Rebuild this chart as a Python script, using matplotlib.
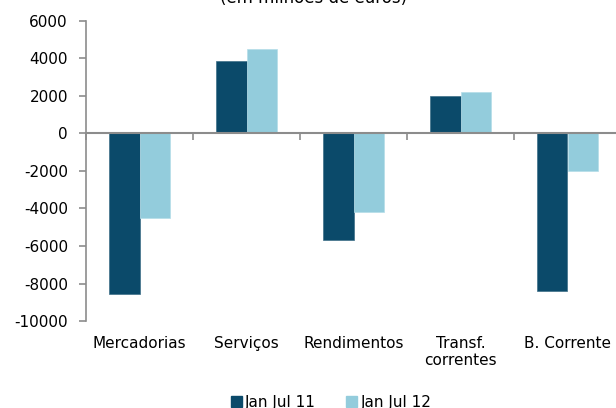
import numpy as np
import matplotlib
matplotlib.use('Agg')
import matplotlib.pyplot as plt
import matplotlib.transforms as mtransforms
from matplotlib.patches import Patch

categorias = ['Mercadorias', 'Serviços', 'Rendimentos', 'Transf.\ncorrentes', 'B. Corrente']
jan_jul_11 = [-8550, 3850, -5700, 2000, -8400]
jan_jul_12 = [-4500, 4500, -4200, 2200, -2000]
series = ['Jan Jul 11', 'Jan Jul 12']
yticks = [-10000, -8000, -6000, -4000, -2000, 0, 2000, 4000, 6000]

dark = '#0b4a6a'
light = '#93ccdc'
grey = '#8c8c8c'

plt.rcParams['font.family'] = ['DejaVu Sans']

fig = plt.figure(figsize=(6.16, 4.08), dpi=100)
ax = fig.add_axes([86 / 616, 1 - 321 / 408, 535 / 616, 300 / 408])

x = np.arange(len(categorias))
w = 0.287
ax.bar(x - w / 2, jan_jul_11, w, color=dark, edgecolor='#3f6f88', linewidth=0.5)
ax.bar(x + w / 2, jan_jul_12, w, color=light, edgecolor='#b5dde8', linewidth=0.5)

ax.set_xlim(-0.5, len(categorias) - 0.5)
ax.set_ylim(-10000, 6000)
ax.set_yticks(yticks)
ax.set_yticklabels([str(t) for t in yticks], fontsize=11)

for s in ['top', 'right']:
    ax.spines[s].set_visible(False)
ax.spines['left'].set_color(grey)
ax.spines['left'].set_linewidth(1.2)
ax.spines['bottom'].set_position(('data', 0))
ax.spines['bottom'].set_color(grey)
ax.spines['bottom'].set_linewidth(1.5)
ax.tick_params(axis='y', length=5, color=grey, width=1.2, pad=8)
ax.set_xticks(np.arange(-0.5, len(categorias), 1.0))
ax.set_xticklabels([])
ax.tick_params(axis='x', length=5, color=grey, width=1.2, direction='out')

trans = mtransforms.blended_transform_factory(ax.transData, ax.transAxes)
for i, c in enumerate(categorias):
    ax.text(i, -0.05, c, transform=trans, ha='center', va='top', fontsize=11,
            linespacing=1.2)

fig.text(314 / 616, 1 - 3 / 408, '(em milhões de euros)', ha='center', va='baseline', fontsize=12)

handles = [Patch(color=dark), Patch(color=light)]
fig.legend(handles, series, loc='center', bbox_to_anchor=(331 / 616, 1 - 402 / 408), ncol=2,
           frameon=False, fontsize=11, handlelength=0.72, handleheight=0.72,
           handletextpad=0.2, columnspacing=2.0, borderpad=0, borderaxespad=0)

fig.savefig('out.png', dpi=100)
